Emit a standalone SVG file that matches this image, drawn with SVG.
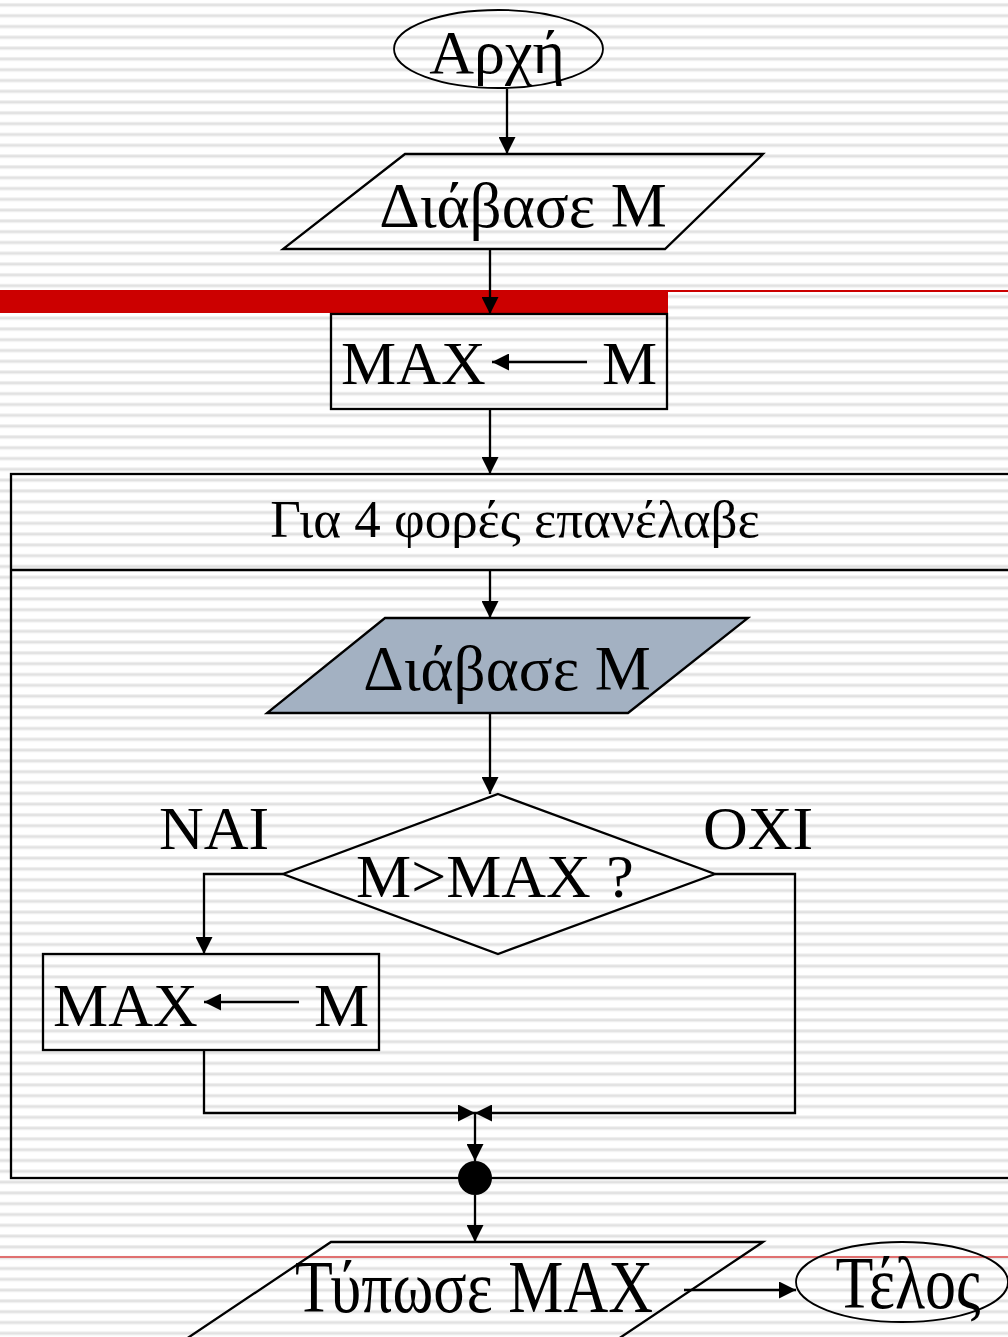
<svg xmlns="http://www.w3.org/2000/svg" width="1008" height="1337" viewBox="0 0 1008 1337">
  <defs>
    <pattern id="stripes" patternUnits="userSpaceOnUse" x="0" y="0" width="20" height="10.8">
      <rect x="0" y="0" width="20" height="10.8" fill="#ffffff"/>
      <rect x="0" y="3" width="20" height="1" fill="#efefef"/>
      <rect x="0" y="4" width="20" height="2" fill="#e1e1e1"/>
      <rect x="0" y="6" width="20" height="1" fill="#efefef"/>
    </pattern>
    <marker id="arrow" markerUnits="userSpaceOnUse" markerWidth="17" markerHeight="17" viewBox="0 0 16 16" refX="16" refY="8" orient="auto">
      <path d="M0,0 L16,8 L0,16 z" fill="#000"/>
    </marker>
    <style>
      .shape { fill: none; stroke: #000; stroke-width: 2.3; }
      .term { fill: none; stroke: #000; stroke-width: 1.8; }
      .conn { fill: none; stroke: #000; stroke-width: 2.3; marker-end: url(#arrow); }
      .line { fill: none; stroke: #000; stroke-width: 2.3; }
      .txt { font-family: "Liberation Serif", "DejaVu Serif", serif; fill: #000; }
      .big { font-size: 62px; }
      .mid { font-size: 53px; }
    </style>
  </defs>

  <!-- page background -->
  <rect x="0" y="0" width="1008" height="1337" fill="url(#stripes)"/>

  <!-- slide decoration bars -->
  <rect x="0" y="290" width="668" height="23" fill="#cc0000"/>
  <rect x="668" y="290" width="340" height="2" fill="#cc0000"/>
  <rect x="0" y="1256" width="1008" height="2" fill="#e07070"/>

  <!-- repeat block -->
  <g id="loop">
    <rect class="shape" x="11" y="474" width="1010" height="704"/>
    <line class="line" x1="11" y1="570" x2="1008" y2="570"/>
    <text class="txt mid" x="515" y="537" text-anchor="middle">Για 4 φορές επανέλαβε</text>
  </g>

  <g id="start">
    <ellipse class="term" cx="498.5" cy="49" rx="104.5" ry="39"/>
    <text class="txt big" x="497" y="73" text-anchor="middle">Αρχή</text>
  </g>

  <g id="read1">
    <polygon class="shape" points="405,154 763,154 665,249 283,249"/>
    <text class="txt big" x="523" y="227" text-anchor="middle" style="font-size:63px">Διάβασε Μ</text>
  </g>

  <g id="assign1">
    <rect class="shape" x="331" y="314" width="336" height="95"/>
    <text class="txt big" x="341" y="384">MAX</text>
    <line class="conn" x1="587" y1="362" x2="492" y2="362"/>
    <text class="txt big" x="602" y="384">M</text>
  </g>

  <g id="read2">
    <polygon points="385,618 748,618 628,713 267,713" fill="#a3b1c2" stroke="#000" stroke-width="2.3"/>
    <text class="txt big" x="507" y="690" text-anchor="middle" style="font-size:63px">Διάβασε Μ</text>
  </g>

  <g id="decision">
    <polygon class="shape" points="498,794 715,874 498,954 283,874"/>
    <text class="txt big" x="495" y="897" text-anchor="middle">M&gt;MAX ?</text>
  </g>
  <text class="txt big" x="159" y="849">NAI</text>
  <text class="txt big" x="703" y="849">OXI</text>

  <g id="assign2">
    <rect class="shape" x="43" y="954" width="336" height="96"/>
    <text class="txt big" x="53" y="1026">MAX</text>
    <line class="conn" x1="299" y1="1002" x2="204" y2="1002"/>
    <text class="txt big" x="314" y="1026">M</text>
  </g>

  <g id="join">
    <circle cx="475" cy="1178" r="17" fill="#000"/>
  </g>

  <g id="print">
    <polygon class="shape" points="331,1242 763,1242 527,1400 95,1400"/>
    <!-- text stretched vertically: baseline kept at y=1312 -->
    <text class="txt big" x="474" y="1312" text-anchor="middle" transform="translate(0,-262.4) scale(1,1.2)">Τύπωσε MAX</text>
  </g>

  <g id="end">
    <ellipse class="term" cx="902" cy="1282" rx="106" ry="40"/>
    <text class="txt big" x="908" y="1308" text-anchor="middle" transform="translate(0,-261.6) scale(1,1.2)">Τέλος</text>
  </g>

  <!-- connectors -->
  <g id="connectors">
    <path class="conn" d="M507,89 V154"/>
    <path class="conn" d="M490,250 V314"/>
    <path class="conn" d="M490,410 V474"/>
    <path class="conn" d="M490,570 V618"/>
    <path class="conn" d="M490,714 V794"/>
    <path class="conn" d="M283,874 H204 V954"/>
    <path class="conn" d="M715,874 H795 V1113 H475"/>
    <path class="conn" d="M204,1050 V1113 H475"/>
    <path class="conn" d="M475,1113 V1161"/>
    <path class="conn" d="M475,1195 V1242"/>
    <path class="conn" d="M684,1290 H796"/>
  </g>
</svg>
